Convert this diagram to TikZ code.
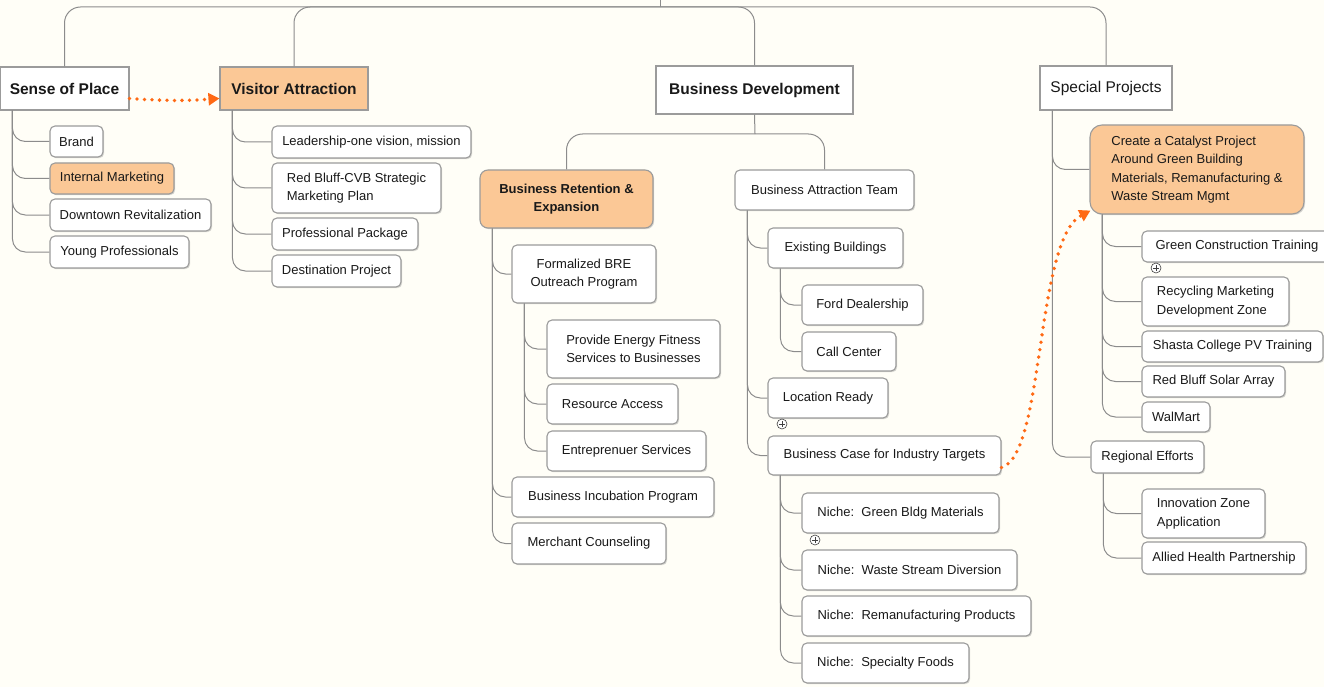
\documentclass[tikz,border=0pt]{standalone}
\usepackage{fontspec}
\setmainfont{Liberation Sans}
\usetikzlibrary{arrows.meta,shadows}
\definecolor{bgc}{RGB}{255,254,247}
\definecolor{orf}{RGB}{251,200,150}
\definecolor{ord}{RGB}{255,105,20}
\definecolor{bdr}{RGB}{155,155,155}
\definecolor{lnc}{RGB}{140,140,140}
\definecolor{txc}{RGB}{25,25,25}
\begin{document}
\begin{tikzpicture}[x=1pt,y=-1pt,
 base/.style={draw=bdr, line width=1.1pt, fill=white, text=txc, inner sep=0pt,
   drop shadow={shadow xshift=1.2pt, shadow yshift=-1.2pt, opacity=0.25, fill=black!60}},
 topbox/.style={base, rectangle, font=\fontsize{15.5}{18}\selectfont\bfseries},
 topreg/.style={base, rectangle, font=\fontsize{15.5}{18}\selectfont},
 cbox/.style={base, rounded corners=5pt, font=\fontsize{13}{18.5}\selectfont},
 hl/.style={fill=orf},
 conn/.style={draw=lnc, line width=1pt, rounded corners=13pt},
 topconn/.style={draw=lnc, line width=1pt, rounded corners=16pt},
 dotarrow/.style={draw=ord, line width=3.8pt, line cap=round, dash pattern=on 0pt off 7.5pt,
   -{Triangle[length=11pt,width=12pt,fill=ord]}},
 plusc/.style={circle, draw=black!75, fill=white, minimum size=10pt, inner sep=0pt, line width=0.6pt,
   path picture={\draw[line width=0.7pt] ([xshift=-2.6pt]path picture bounding box.center) -- ([xshift=2.6pt]path picture bounding box.center)
     ([yshift=-2.6pt]path picture bounding box.center) -- ([yshift=2.6pt]path picture bounding box.center);}}
]
\fill[bgc] (0,0) rectangle (1324,687);
\useasboundingbox (0,0) rectangle (1324,687);

% top-level nodes
\node[topbox, minimum width=129pt, minimum height=43pt] (sop) at (64.5,88.5) {Sense of Place};
\node[topbox, hl, minimum width=148pt, minimum height=43pt] (va) at (294,88.5) {Visitor Attraction};
\node[topbox, minimum width=197pt, minimum height=48pt] (bd) at (754.5,90) {Business Development};
\node[topreg, minimum width=132pt, minimum height=44pt] (sp) at (1106,88) {Special Projects};
\coordinate (root) at (660,0);
\coordinate (rootj) at (660,7);

% Sense of Place children
\node[cbox, minimum width=53pt, minimum height=31pt] (brand) at (76.5,141.5) {Brand};
\node[cbox, hl, minimum width=124pt, minimum height=31pt] (intm) at (112,178.5) {Internal Marketing};
\node[cbox, minimum width=161pt, minimum height=32pt] (dtr) at (130.5,215) {Downtown Revitalization};
\node[cbox, minimum width=139pt, minimum height=32pt] (yp) at (119.5,252) {Young Professionals};

% Visitor Attraction children
\node[cbox, minimum width=199pt, minimum height=32pt] (lead) at (371.5,142) {Leadership-one vision, mission};
\node[cbox, align=left, minimum width=169pt, minimum height=50pt] (rbcvb) at (356.5,188) {Red Bluff-CVB Strategic\\Marketing Plan};
\node[cbox, minimum width=146pt, minimum height=32pt] (pp) at (345,234) {Professional Package};
\node[cbox, minimum width=129pt, minimum height=32pt] (dp) at (336.5,271) {Destination Project};

% Business Development children
\node[cbox, hl, rounded corners=8pt, align=center, font=\fontsize{13}{18.5}\selectfont\bfseries,
  minimum width=173pt, minimum height=58pt] (bre) at (566.5,199) {Business Retention \&\\Expansion};
\node[cbox, minimum width=179pt, minimum height=40pt] (bat) at (824.5,190) {Business Attraction Team};
\coordinate (bdj) at (755,134);

\node[cbox, align=center, minimum width=144pt, minimum height=58pt] (fbre) at (584,274) {Formalized BRE\\Outreach Program};
\node[cbox, align=center, minimum width=173pt, minimum height=58pt] (pef) at (633.5,349) {Provide Energy Fitness\\Services to Businesses};
\node[cbox, minimum width=131pt, minimum height=40pt] (ra) at (612.5,404) {Resource Access};
\node[cbox, minimum width=159pt, minimum height=40pt] (es) at (626.5,451) {Entreprenuer Services};
\node[cbox, minimum width=202pt, minimum height=40pt] (bip) at (613,497) {Business Incubation Program};
\node[cbox, minimum width=154pt, minimum height=41pt] (mc) at (589,543.5) {Merchant Counseling};

\node[cbox, minimum width=135pt, minimum height=40pt] (eb) at (835.5,248) {Existing Buildings};
\node[cbox, minimum width=121pt, minimum height=40pt] (fd) at (862.5,305) {Ford Dealership};
\node[cbox, minimum width=94pt, minimum height=39pt] (cc) at (849,351.5) {Call Center};
\node[cbox, minimum width=120pt, minimum height=40pt] (lr) at (828,398) {Location Ready};
\node[cbox, minimum width=233pt, minimum height=39pt] (bcit) at (884.5,455.5) {Business Case for Industry Targets};
\node[cbox, minimum width=197pt, minimum height=40pt] (n1) at (900.5,513) {Niche:\ \ Green Bldg Materials};
\node[cbox, minimum width=215pt, minimum height=40pt] (n2) at (909.5,570) {Niche:\ \ Waste Stream Diversion};
\node[cbox, minimum width=229pt, minimum height=40pt] (n3) at (916.5,616) {Niche:\ \ Remanufacturing Products};
\node[cbox, minimum width=167pt, minimum height=40pt] (n4) at (885.5,663) {Niche:\ \ Specialty Foods};

% Special Projects children
\node[cbox, hl, rounded corners=12pt, align=left, minimum width=214pt, minimum height=89pt] (cat) at (1197,169.5)
  {Create a Catalyst Project\\Around Green Building\\Materials, Remanufacturing \&\\Waste Stream Mgmt};
\node[cbox, minimum width=190pt, minimum height=31pt] (gct) at (1237,246.5) {Green Construction Training};
\node[cbox, align=left, minimum width=147pt, minimum height=49pt] (rmdz) at (1215.5,301.5) {Recycling Marketing\\Development Zone};
\node[cbox, minimum width=181pt, minimum height=31pt] (scpv) at (1232.5,346.5) {Shasta College PV Training};
\node[cbox, minimum width=143pt, minimum height=31pt] (rbsa) at (1213.5,381.5) {Red Bluff Solar Array};
\node[cbox, minimum width=68pt, minimum height=30pt] (wm) at (1176,417) {WalMart};
\node[cbox, minimum width=113pt, minimum height=32pt] (re) at (1147.5,457) {Regional Efforts};
\node[cbox, align=left, minimum width=123pt, minimum height=49pt] (iza) at (1203.5,513.5) {Innovation Zone\\Application};
\node[cbox, minimum width=164pt, minimum height=32pt] (ahp) at (1224,558) {Allied Health Partnership};

% plus markers
\node[plusc] (plr) at (782,424) {};
\node[plusc] (pn1) at (815,540) {};
\node[plusc] (pgct) at (1156,268) {};

% top connectors
\draw[topconn] (root) -- (rootj);
\draw[topconn] (rootj) -| (sop.north);
\draw[topconn] (rootj) -| (va.north);
\draw[topconn] (rootj) -| (bd.north);
\draw[topconn] (rootj) -| (sp.north);

% BD connectors
\draw[conn] (bd.south) -- (bdj);
\draw[topconn] (bdj) -| (bre.north);
\draw[topconn] (bdj) -| (bat.north);

% child connectors
\foreach \p/\c in {sop/brand, sop/intm, sop/dtr, sop/yp,
                   va/lead, va/rbcvb, va/pp, va/dp,
                   bre/fbre, bre/bip, bre/mc,
                   fbre/pef, fbre/ra, fbre/es,
                   bat/eb, bat/lr, bat/bcit,
                   eb/fd, eb/cc,
                   bcit/n1, bcit/n2, bcit/n3, bcit/n4,
                   sp/cat, sp/re,
                   cat/gct, cat/rmdz, cat/scpv, cat/rbsa, cat/wm,
                   re/iza, re/ahp}
  \draw[conn] ([xshift=13pt]\p.south west) |- (\c.west);

% dotted arrows
\draw[dotarrow] ([yshift=-10pt]sop.east) to[bend right=4] ([yshift=-10pt]va.west);
\draw[dotarrow] ([yshift=-12pt]bcit.east) .. controls (1045,455) and (1035,240) .. ([shift={(1pt,4pt)}]cat.south west);
\end{tikzpicture}
\end{document}
